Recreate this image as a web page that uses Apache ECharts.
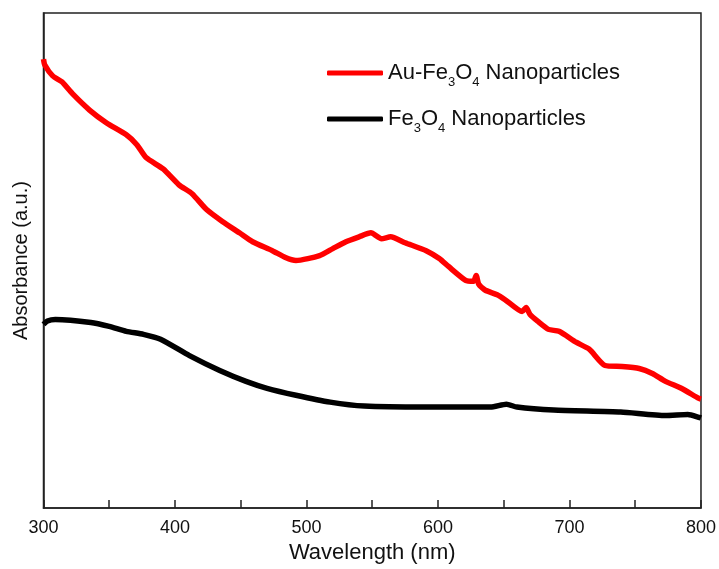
<!DOCTYPE html>
<html>
<head>
<meta charset="utf-8">
<script src="https://cdn.jsdelivr.net/npm/echarts@6/dist/echarts.min.js"></script>
</head>
<body style="margin:0;background:#fff">
<div id="main" style="width:719px;height:569px"></div>
<script>
// wavelength (nm) / absorbance (a.u., arbitrary scale 0..1)
var auWave = [300, 301, 307, 314, 322, 335, 348, 363, 371, 378, 391, 403, 413, 424, 436, 449, 459, 474, 484, 492, 510, 520, 530, 540, 549, 557, 564, 575, 591, 601, 608, 621, 627, 629, 631, 636, 645, 651, 664, 667, 670, 676, 684, 692, 705, 715, 727, 740, 753, 763, 773, 785, 798, 800];
var auAbs  = [0.907, 0.895, 0.873, 0.861, 0.837, 0.804, 0.778, 0.754, 0.734, 0.708, 0.685, 0.653, 0.635, 0.603, 0.579, 0.556, 0.538, 0.520, 0.506, 0.500, 0.510, 0.524, 0.538, 0.548, 0.556, 0.544, 0.548, 0.536, 0.520, 0.504, 0.488, 0.460, 0.458, 0.470, 0.452, 0.440, 0.431, 0.421, 0.397, 0.405, 0.391, 0.377, 0.361, 0.357, 0.335, 0.321, 0.288, 0.286, 0.282, 0.272, 0.256, 0.242, 0.222, 0.220];
var feWave = [300, 303, 309, 336, 350, 363, 376, 389, 411, 434, 454, 470, 492, 518, 544, 590, 640, 652, 660, 688, 739, 773, 790, 799, 800];
var feAbs  = [0.371, 0.378, 0.381, 0.375, 0.367, 0.357, 0.351, 0.341, 0.308, 0.278, 0.256, 0.242, 0.228, 0.214, 0.206, 0.204, 0.204, 0.210, 0.204, 0.198, 0.194, 0.187, 0.189, 0.183, 0.182];
var seriesNames = ['Au-Fe3O4', 'Fe3O4'];
var legendLabels = ['Au-Fe{sub|3}O{sub|4} Nanoparticles', 'Fe{sub|3}O{sub|4} Nanoparticles'];

function pairs(xs, ys) {
    var out = [];
    for (var i = 0; i < xs.length; i++) out.push([xs[i], ys[i]]);
    return out;
}

var chart = echarts.init(document.getElementById('main'), null, { renderer: 'canvas' });
var font = 'Liberation Sans, Arial, sans-serif';

chart.setOption({
    backgroundColor: '#fff',
    animation: false,
    grid: { left: 43.5, right: 16, top: 13, bottom: 52, show: true, borderColor: '#222', borderWidth: 1.5 },
    legend: {
        orient: 'vertical',
        left: 322,
        top: 52,
        itemWidth: 56,
        itemHeight: 5,
        itemGap: 14,
        icon: 'roundRect',
        data: seriesNames,
        formatter: function (name) {
            return legendLabels[seriesNames.indexOf(name)];
        },
        textStyle: {
            fontFamily: font,
            fontSize: 22,
            color: '#111',
            lineHeight: 32,
            rich: {
                sub: { fontFamily: font, fontSize: 13, color: '#111', verticalAlign: 'bottom', lineHeight: 32 }
            }
        }
    },
    xAxis: {
        type: 'value',
        min: 300,
        max: 800,
        interval: 50,
        name: 'Wavelength (nm)',
        nameLocation: 'middle',
        nameGap: 27,
        nameTextStyle: { fontFamily: font, fontSize: 22, color: '#111' },
        axisLine: { lineStyle: { color: '#222', width: 1.5 } },
        axisTick: { inside: true, length: 8, lineStyle: { color: '#222', width: 1.5 } },
        axisLabel: {
            margin: 11,
            fontFamily: font,
            fontSize: 18,
            color: '#111',
            formatter: function (v) { return v % 100 === 0 ? String(v) : ''; }
        },
        splitLine: { show: false }
    },
    yAxis: {
        type: 'value',
        min: 0,
        max: 1,
        name: 'Absorbance (a.u.)',
        nameLocation: 'middle',
        nameGap: 12,
        nameTextStyle: { fontFamily: font, fontSize: 20, color: '#111' },
        axisLine: { show: true, lineStyle: { color: '#222', width: 1.5 } },
        axisTick: { show: false },
        axisLabel: { show: false },
        splitLine: { show: false }
    },
    series: [
        {
            name: seriesNames[0],
            type: 'line',
            data: pairs(auWave, auAbs),
            showSymbol: false,
            smooth: 0.2,
            color: '#ff0000',
            lineStyle: { color: '#ff0000', width: 5.5 }
        },
        {
            name: seriesNames[1],
            type: 'line',
            data: pairs(feWave, feAbs),
            showSymbol: false,
            smooth: 0.2,
            color: '#000000',
            lineStyle: { color: '#000000', width: 5.5 }
        }
    ]
});
</script>
</body>
</html>
